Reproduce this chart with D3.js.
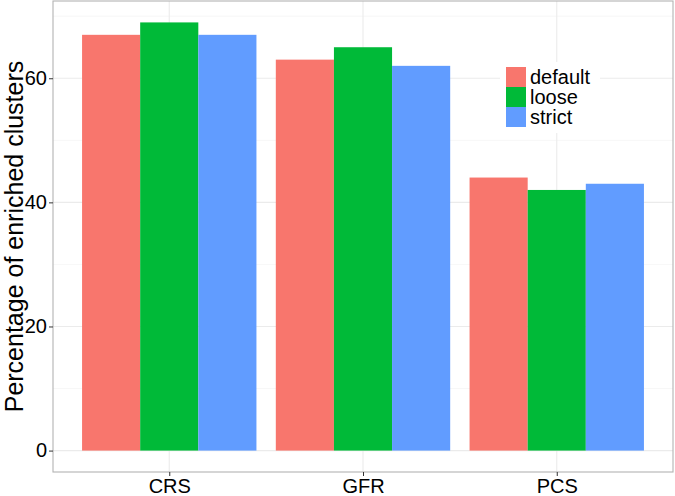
<!DOCTYPE html>
<html><head><meta charset="utf-8">
<script src="https://cdn.jsdelivr.net/npm/d3@7"></script>
<style>body{margin:0;background:#fff}svg{display:block;font-family:"Liberation Sans",Arial,sans-serif}</style>
</head><body><svg id="c" width="675" height="496"></svg>
<script>
const categories = ["CRS", "GFR", "PCS"];
const seriesNames = ["default", "loose", "strict"];
const defaultVals = [67, 63, 44];
const looseVals = [69, 65, 42];
const strictVals = [67, 62, 43];
const yTicks = [0, 20, 40, 60];
const yMinor = [10, 30, 50, 70];
const colors = ["#F8766D", "#00BA38", "#619CFF"];

const series = [defaultVals, looseVals, strictVals];
const data = [];
categories.forEach((c, i) => seriesNames.forEach((s, j) => data.push({cat: c, s, v: series[j][i], j})));

const svg = d3.select("#c");
const L = 53, R = 673, T = 1, B = 472;
const maxV = d3.max(data, d => d.v);
const pad = maxV * 0.05;
const y = d3.scaleLinear().domain([-pad, maxV + pad]).range([B, T]);
const unit = (R - L) / (categories.length - 1 + 1.2);
const xc = d3.scalePoint().domain(categories).range([L + 0.6 * unit, R - 0.6 * unit]);
const bw = unit * 0.9 / seriesNames.length;

// panel bg
svg.append("rect").attr("x", L).attr("y", T).attr("width", R - L).attr("height", B - T).attr("fill", "#fff");
// grid
const g = svg.append("g");
yMinor.forEach(v => g.append("line").attr("x1", L).attr("x2", R).attr("y1", y(v)).attr("y2", y(v)).attr("stroke", "#f2f2f2").attr("stroke-width", 0.6));
yTicks.forEach(v => g.append("line").attr("x1", L).attr("x2", R).attr("y1", y(v)).attr("y2", y(v)).attr("stroke", "#ebebeb").attr("stroke-width", 1.1));
categories.forEach(c => g.append("line").attr("x1", xc(c)).attr("x2", xc(c)).attr("y1", T).attr("y2", B).attr("stroke", "#ebebeb").attr("stroke-width", 1.1));

// bars
svg.append("g").selectAll("rect").data(data).join("rect")
  .attr("x", d => xc(d.cat) - 1.5 * bw + d.j * bw)
  .attr("width", bw)
  .attr("y", d => y(d.v))
  .attr("height", d => y(0) - y(d.v))
  .attr("fill", d => colors[d.j]);

// border
svg.append("rect").attr("x", L).attr("y", T).attr("width", R - L).attr("height", B - T)
  .attr("fill", "none").attr("stroke", "#b3b3b3").attr("stroke-width", 1.1);

// y axis
const ya = svg.append("g").attr("transform", `translate(${L},0)`)
  .call(d3.axisLeft(y).tickValues(yTicks).tickSize(4).tickPadding(2).tickFormat(d3.format("d")));
ya.select(".domain").remove();
ya.selectAll("line").attr("stroke", "#333");
ya.selectAll("text").attr("font-size", 20).attr("fill", "#000").attr("font-family", "Liberation Sans, Arial, sans-serif");

// x axis
const xa = svg.append("g").attr("transform", `translate(0,${B})`)
  .call(d3.axisBottom(xc).tickSize(4).tickPadding(3));
xa.select(".domain").remove();
xa.selectAll("line").attr("stroke", "#333");
xa.selectAll("text").attr("font-size", 20).attr("fill", "#000").attr("font-family", "Liberation Sans, Arial, sans-serif");

// y title
svg.append("text").attr("transform", `translate(23,${(T + B) / 2}) rotate(-90)`)
  .attr("text-anchor", "middle").attr("font-size", 25).attr("fill", "#000")
  .text("Percentage of enriched clusters");

// legend
const lg = svg.append("g").attr("transform", "translate(506,67)");
lg.append("rect").attr("x", -6).attr("y", -5).attr("width", 100).attr("height", 71).attr("fill", "#fff");
seriesNames.forEach((s, i) => {
  lg.append("rect").attr("x", 0).attr("y", i * 20).attr("width", 20).attr("height", 20).attr("fill", colors[i]);
  lg.append("text").attr("x", 24).attr("y", i * 20 + 17).attr("font-size", 20).attr("fill", "#000").text(s);
});
</script></body></html>
